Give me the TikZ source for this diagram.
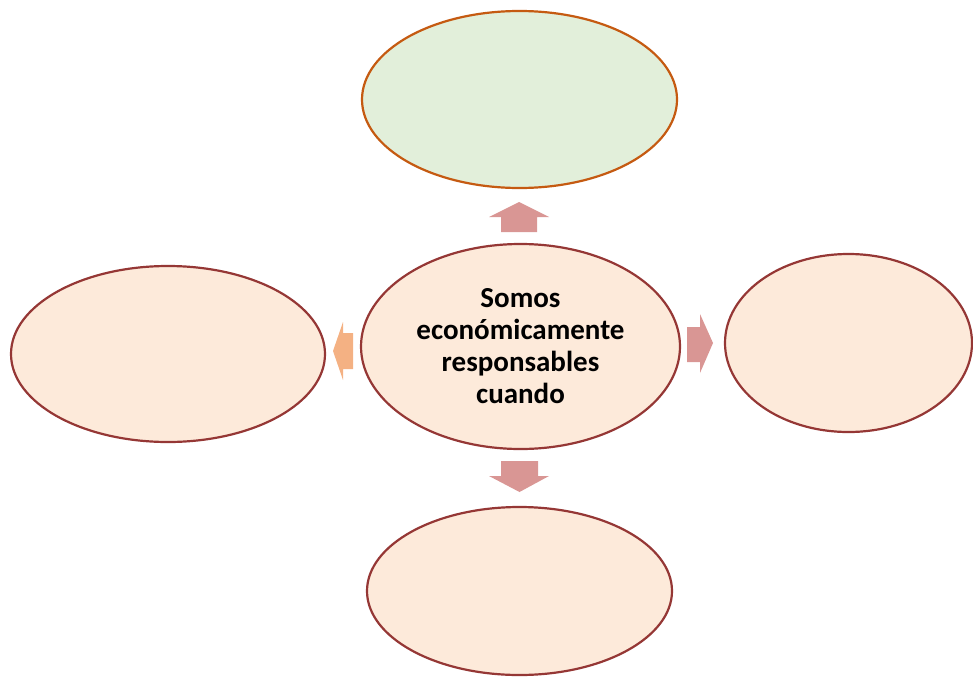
\documentclass[tikz,border=0pt]{standalone}
\usepackage{fontspec}
\setmainfont{Carlito}
\usepackage{tikz}
\usetikzlibrary{shapes.geometric}
\definecolor{peachfill}{RGB}{253,234,218}
\definecolor{maroonline}{RGB}{149,55,53}
\definecolor{mintfill}{RGB}{226,239,218}
\definecolor{rustline}{RGB}{197,90,17}
\definecolor{rosearrow}{RGB}{217,150,148}
\definecolor{apricotarrow}{RGB}{244,177,131}
\tikzset{
  base/.style={font=\bfseries\fontsize{29}{32}\selectfont, align=center, inner sep=0pt, text=black},
  oval/.style={base, ellipse, draw=maroonline, fill=peachfill, line width=2.2pt},
  ovalgreen/.style={oval, draw=rustline, fill=mintfill},
  blk/.style={fill=rosearrow},
  blko/.style={fill=apricotarrow},
}
\begin{document}
\begin{tikzpicture}[x=1pt,y=-1pt]
  \useasboundingbox (0,0) rectangle (973,677);
  % ovals
  \node[oval, minimum width=319pt, minimum height=205pt] (centre) at (520.5,346.5) {Somos\\económicamente\\responsables\\cuando};
  \node[ovalgreen, minimum width=315pt, minimum height=177pt] (top) at (519.5,99.5) {};
  \node[oval, minimum width=314pt, minimum height=176pt] (left) at (168,354) {};
  \node[oval, minimum width=247pt, minimum height=178pt] (right) at (848.5,343) {};
  \node[oval, minimum width=305pt, minimum height=168pt] (bottom) at (519.5,591) {};
  % block arrows
  \fill[blk] (501,232) -- (501,217) -- (489,217) -- (519,202) -- (549,217) -- (537,217) -- (537,232) -- cycle;
  \fill[blk] (501,461) -- (538,461) -- (538,476) -- (549,476) -- (519.5,492) -- (489,476) -- (501,476) -- cycle;
  \fill[blk] (687,327) -- (700,327) -- (700,314) -- (713,343) -- (700,373) -- (700,362) -- (687,362) -- cycle;
  \fill[blko] (353,333) -- (343,333) -- (343,322) -- (333,351) -- (343,380) -- (343,369) -- (353,369) -- cycle;
\end{tikzpicture}
\end{document}
